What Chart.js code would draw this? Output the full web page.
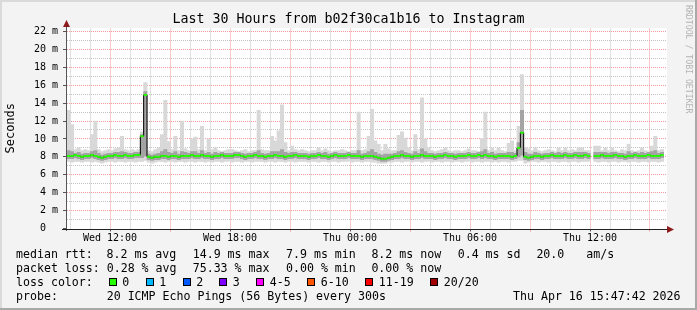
<!DOCTYPE html>
<html>
<head>
<meta charset="utf-8">
<script src="https://cdn.jsdelivr.net/npm/chart.js@4/dist/chart.umd.min.js"></script>
<style>
  html, body { margin: 0; padding: 0; }
  body { width: 697px; height: 310px; position: relative; overflow: hidden; background: #f3f3f3; }
  #chart { position: absolute; left: 0; top: 0; }
  .txt { position: absolute; font-family: "DejaVu Sans Mono", monospace; color: #000; white-space: pre; }
  .leg { font-size: 11.6px; line-height: 14px; }
  .box { position: absolute; width: 6px; height: 6px; border: 1px solid #000; }
</style>
</head>
<body>
<canvas id="chart" width="697" height="310"></canvas>
<div class="txt" id="title" style="left:0;top:11px;width:697px;text-align:center;font-size:13.3px;line-height:16px;">Last 30 Hours from b02f30ca1b16 to Instagram</div>
<div id="legend"></div>
<script>
// 10 minute consolidated samples, Wed 09:51 -> Thu 15:51 (hours since Wed 00:00)
const startHour = 9.85;
const stepHour = 1 / 6;
const dayNames = ['Wed', 'Thu'];
const hourTicks = [10, 11, 12, 13, 14, 15, 16, 17, 18, 19, 20, 21, 22, 23, 24,
                   25, 26, 27, 28, 29, 30, 31, 32, 33, 34, 35, 36, 37, 38, 39];
const msTicks = [0, 1, 2, 3, 4, 5, 6, 7, 8, 9, 10, 11, 12, 13, 14, 15, 16, 17, 18, 19, 20, 21, 22];

// median rtt (ms)
const rttMedian = [
  8.1, 8.1, 8.2, 8.1, 8.0, 8.1, 8.1, 8.2, 8.1, 8.0, 7.9, 8.0,
  8.1, 8.1, 8.2, 8.1, 8.1, 8.2, 8.1, 8.1, 8.2, 8.2, 10.3, 14.9,
  8.0, 7.9, 8.0, 8.0, 8.1, 8.1, 8.0, 8.1, 8.1, 8.0, 8.1, 8.1,
  8.1, 8.2, 8.1, 8.1, 8.2, 8.1, 8.1, 8.0, 8.1, 8.1, 8.2, 8.1,
  8.1, 8.1, 8.2, 8.2, 8.1, 8.0, 8.1, 8.1, 8.2, 8.1, 8.1, 8.0,
  8.1, 8.1, 8.2, 8.1, 8.1, 8.0, 8.1, 8.1, 8.2, 8.1, 8.1, 8.1,
  8.0, 8.1, 8.1, 8.2, 8.1, 8.1, 8.0, 8.1, 8.2, 8.1, 8.1, 8.1,
  8.2, 8.1, 8.1, 8.1, 8.0, 8.1, 8.1, 8.1, 8.0, 7.9, 7.8, 7.8,
  7.9, 8.0, 8.1, 8.1, 8.2, 8.1, 8.1, 8.0, 8.1, 8.1, 8.2, 8.1,
  8.1, 8.1, 8.0, 8.1, 8.1, 8.2, 8.1, 8.1, 8.0, 8.1, 8.1, 8.1,
  8.2, 8.1, 8.1, 8.2, 8.1, 8.2, 8.1, 8.1, 8.0, 8.1, 8.1, 8.1,
  8.1, 8.0, 8.1, 9.0, 10.7, 8.0, 7.9, 8.0, 8.1, 8.1, 8.0, 8.1,
  8.1, 8.2, 8.1, 8.1, 8.1, 8.2, 8.1, 8.1, 8.2, 8.1, 8.1, 8.2,
  8.1, null, 8.1, 8.1, 8.2, 8.1, 8.1, 8.1, 8.2, 8.1, 8.1, 8.0,
  8.1, 8.1, 8.2, 8.1, 8.1, 8.1, 8.2, 8.1, 8.1, 8.1, 8.2, null
];

// fastest ping per sample (bottom of the smoke)
const rttMin = [
  7.5, 7.4, 7.5, 7.5, 7.4, 7.5, 7.5, 7.4, 7.5, 7.4, 7.3, 7.4,
  7.5, 7.5, 7.4, 7.5, 7.5, 7.4, 7.5, 7.5, 7.4, 7.5, 7.5, 7.6,
  7.4, 7.3, 7.4, 7.5, 7.5, 7.4, 7.5, 7.5, 7.4, 7.5, 7.5, 7.4,
  7.5, 7.5, 7.4, 7.5, 7.5, 7.4, 7.5, 7.4, 7.5, 7.5, 7.4, 7.5,
  7.5, 7.4, 7.5, 7.5, 7.4, 7.5, 7.5, 7.4, 7.5, 7.5, 7.5, 7.4,
  7.5, 7.5, 7.4, 7.5, 7.5, 7.4, 7.5, 7.5, 7.4, 7.5, 7.5, 7.5,
  7.4, 7.5, 7.5, 7.4, 7.5, 7.5, 7.4, 7.5, 7.5, 7.4, 7.5, 7.5,
  7.5, 7.4, 7.5, 7.5, 7.4, 7.5, 7.5, 7.4, 7.4, 7.3, 7.3, 7.3,
  7.4, 7.4, 7.5, 7.5, 7.4, 7.5, 7.5, 7.4, 7.5, 7.5, 7.4, 7.5,
  7.5, 7.4, 7.5, 7.5, 7.4, 7.5, 7.5, 7.4, 7.5, 7.5, 7.4, 7.5,
  7.5, 7.4, 7.5, 7.5, 7.4, 7.5, 7.5, 7.4, 7.5, 7.4, 7.5, 7.5,
  7.4, 7.5, 7.5, 7.6, 7.6, 7.3, 7.4, 7.5, 7.5, 7.4, 7.5, 7.5,
  7.4, 7.5, 7.5, 7.4, 7.5, 7.5, 7.4, 7.5, 7.5, 7.4, 7.5, 7.5,
  7.5, null, 7.5, 7.4, 7.5, 7.5, 7.4, 7.5, 7.5, 7.4, 7.5, 7.5,
  7.4, 7.5, 7.5, 7.4, 7.5, 7.5, 7.4, 7.5, 7.5, 7.4, 7.5, null
];

// lower / upper edge of the dense smoke
const rttLowQ = [
  7.8, 7.8, 7.9, 7.8, 7.7, 7.8, 7.8, 7.9, 7.8, 7.7, 7.6, 7.7,
  7.8, 7.8, 7.9, 7.8, 7.8, 7.9, 7.8, 7.8, 7.9, 7.9, 7.9, 8.1,
  7.7, 7.6, 7.7, 7.7, 7.8, 7.8, 7.7, 7.8, 7.8, 7.7, 7.8, 7.8,
  7.8, 7.9, 7.8, 7.8, 7.9, 7.8, 7.8, 7.7, 7.8, 7.8, 7.9, 7.8,
  7.8, 7.8, 7.9, 7.9, 7.8, 7.7, 7.8, 7.8, 7.9, 7.8, 7.8, 7.7,
  7.8, 7.8, 7.9, 7.8, 7.8, 7.7, 7.8, 7.8, 7.9, 7.8, 7.8, 7.8,
  7.7, 7.8, 7.8, 7.9, 7.8, 7.8, 7.7, 7.8, 7.9, 7.8, 7.8, 7.8,
  7.9, 7.8, 7.8, 7.8, 7.7, 7.8, 7.8, 7.8, 7.7, 7.6, 7.5, 7.5,
  7.6, 7.7, 7.8, 7.8, 7.9, 7.8, 7.8, 7.7, 7.8, 7.8, 7.9, 7.8,
  7.8, 7.8, 7.7, 7.8, 7.8, 7.9, 7.8, 7.8, 7.7, 7.8, 7.8, 7.8,
  7.9, 7.8, 7.8, 7.9, 7.8, 7.9, 7.8, 7.8, 7.7, 7.8, 7.8, 7.8,
  7.8, 7.7, 7.8, 8.0, 8.2, 7.7, 7.6, 7.7, 7.8, 7.8, 7.7, 7.8,
  7.8, 7.9, 7.8, 7.8, 7.8, 7.9, 7.8, 7.8, 7.9, 7.8, 7.8, 7.9,
  7.8, null, 7.8, 7.8, 7.9, 7.8, 7.8, 7.8, 7.9, 7.8, 7.8, 7.7,
  7.8, 7.8, 7.9, 7.8, 7.8, 7.8, 7.9, 7.8, 7.8, 7.8, 7.9, null
];
const rttHighQ = [
  8.7, 8.6, 8.4, 8.5, 8.3, 8.4, 8.4, 8.6, 8.7, 8.4, 8.2, 8.3,
  8.4, 8.4, 8.5, 8.5, 8.6, 8.5, 8.4, 8.4, 8.5, 8.5, 10.5, 15.3,
  8.3, 8.2, 8.3, 8.4, 8.6, 8.8, 8.5, 8.4, 8.6, 8.3, 8.6, 8.5,
  8.4, 8.6, 8.6, 8.4, 8.7, 8.4, 8.5, 8.3, 8.5, 8.4, 8.5, 8.4,
  8.4, 8.4, 8.5, 8.5, 8.4, 8.3, 8.4, 8.4, 8.5, 8.7, 8.4, 8.3,
  8.4, 8.6, 8.6, 8.6, 8.8, 8.5, 8.4, 8.5, 8.5, 8.4, 8.4, 8.4,
  8.3, 8.4, 8.4, 8.5, 8.4, 8.5, 8.3, 8.4, 8.5, 8.4, 8.4, 8.4,
  8.5, 8.4, 8.4, 8.7, 8.3, 8.4, 8.6, 8.8, 8.5, 8.3, 8.2, 8.3,
  8.3, 8.3, 8.4, 8.6, 8.7, 8.5, 8.4, 8.3, 8.6, 8.4, 8.9, 8.6,
  8.4, 8.4, 8.3, 8.4, 8.4, 8.5, 8.4, 8.4, 8.3, 8.4, 8.4, 8.4,
  8.5, 8.4, 8.4, 8.5, 8.6, 8.8, 8.4, 8.5, 8.3, 8.4, 8.4, 8.4,
  8.5, 8.5, 8.4, 9.6, 13.2, 8.5, 8.3, 8.3, 8.5, 8.4, 8.3, 8.4,
  8.4, 8.5, 8.4, 8.5, 8.4, 8.5, 8.4, 8.4, 8.5, 8.5, 8.5, 8.5,
  8.4, null, 8.5, 8.5, 8.5, 8.5, 8.4, 8.5, 8.5, 8.4, 8.4, 8.3,
  8.6, 8.4, 8.5, 8.4, 8.5, 8.4, 8.5, 8.6, 8.7, 8.4, 8.5, null
];

// slowest ping per sample (top of the smoke)
const rttMax = [
  13.2, 11.6, 8.8, 9.0, 8.7, 8.8, 8.7, 10.5, 12.0, 8.8, 8.6, 8.7,
  8.8, 8.7, 8.9, 9.0, 10.3, 8.8, 8.7, 8.8, 8.7, 8.8, 10.8, 16.3,
  8.7, 8.6, 8.8, 9.0, 10.5, 14.3, 9.7, 8.8, 10.3, 8.7, 12.0, 8.9,
  8.7, 10.0, 10.2, 8.8, 11.4, 8.7, 10.0, 8.8, 9.0, 8.7, 8.6, 8.7,
  8.8, 8.8, 8.7, 8.6, 8.7, 8.8, 8.6, 8.7, 8.7, 13.2, 8.8, 8.7,
  8.7, 10.3, 9.8, 10.9, 13.8, 9.6, 8.7, 9.2, 8.8, 8.7, 8.8, 8.7,
  8.6, 8.7, 8.7, 9.0, 8.7, 8.9, 8.7, 8.6, 8.7, 8.7, 8.8, 8.7,
  8.6, 8.7, 8.7, 13.0, 8.7, 8.8, 10.3, 13.3, 9.8, 9.4, 8.7, 9.4,
  8.9, 8.7, 8.7, 10.4, 10.8, 10.1, 9.0, 8.7, 10.5, 8.8, 14.6, 10.0,
  9.0, 8.7, 8.6, 8.7, 8.8, 9.0, 8.7, 8.6, 8.7, 8.7, 8.6, 8.7,
  8.9, 8.7, 8.7, 8.6, 10.0, 13.0, 8.7, 9.0, 8.7, 9.0, 8.7, 8.6,
  9.5, 9.8, 8.7, 11.4, 17.2, 9.0, 8.9, 8.7, 9.0, 8.7, 8.6, 8.7,
  8.8, 8.7, 8.6, 9.0, 8.7, 9.0, 8.7, 8.8, 8.7, 9.0, 9.0, 8.7,
  8.7, null, 9.2, 9.2, 8.7, 9.0, 8.7, 9.0, 8.7, 8.6, 8.8, 8.7,
  9.4, 8.7, 8.6, 8.7, 9.0, 8.7, 8.6, 9.2, 10.3, 8.7, 8.8, null
];

const lossLabels = ['0', '1', '2', '3', '4-5', '6-10', '11-19', '20/20'];
const lossColors = ['#26ff00', '#00b8ff', '#0059ff', '#7e00ff', '#ff00ff', '#ff5500', '#ff0000', '#a10000'];

const times = rttMedian.map((_, i) => startHour + (i + 0.5) * stepHour);
const pairs = (lo, hi) => hi.map((v, i) => ({ x: times[i], y: v == null ? null : [lo[i], v] }));
const points = (arr) => arr.map((v, i) => ({ x: times[i], y: v }));

const redGrid = '#f39a9a';
const grayGrid = '#c2c2c2';

// dotted rrdtool grid, drawn under the smoke
const gridPlugin = {
    id: 'dottedGrid',
    beforeDatasetsDraw(chart) {
        const c = chart.ctx, a = chart.chartArea, xs = chart.scales.x, ys = chart.scales.y;
        c.save();
        c.lineWidth = 1;
        c.setLineDash([1, 1]);
        [false, true].forEach(major => {
            c.strokeStyle = major ? redGrid : grayGrid;
            hourTicks.filter(h => (h % 3 === 0) === major).forEach(h => {
                const px = Math.floor(xs.getPixelForValue(h)) + 0.5;
                c.beginPath(); c.moveTo(px, a.bottom); c.lineTo(px, a.top); c.stroke();
            });
            msTicks.filter(v => v > 0 && (v % 2 === 0) === major).forEach(v => {
                const py = Math.floor(ys.getPixelForValue(v)) + 0.5;
                c.beginPath(); c.moveTo(a.left, py); c.lineTo(a.right, py); c.stroke();
            });
        });
        c.restore();
    }
};

const framePlugin = {
    id: 'frame',
    beforeDraw(chart) {
        const c = chart.ctx, a = chart.chartArea;
        c.save();
        c.fillStyle = '#f3f3f3';
        c.fillRect(0, 0, 697, 310);
        c.fillStyle = '#dadada';
        c.fillRect(0, 0, 697, 2);
        c.fillRect(0, 0, 2, 310);
        c.fillStyle = '#a9a9a9';
        c.fillRect(0, 308, 697, 2);
        c.fillRect(695, 0, 2, 310);
        c.fillStyle = '#ffffff';
        c.fillRect(a.left, a.top, a.right - a.left, a.bottom - a.top + 0.5);
        c.restore();
    },
    afterDraw(chart) {
        const c = chart.ctx;
        c.save();
        // axes
        c.fillStyle = '#555555';
        c.fillRect(66, 25, 1, 206);
        c.fillStyle = '#222222';
        c.fillRect(62, 229, 606, 1);
        // arrows
        c.fillStyle = '#8e1b1b';
        c.beginPath();
        c.moveTo(66.5, 20); c.lineTo(63, 27); c.lineTo(70, 27); c.closePath();
        c.fill();
        c.beginPath();
        c.moveTo(674, 229.5); c.lineTo(667, 226); c.lineTo(667, 233); c.closePath();
        c.fill();
        // watermark
        c.translate(688, 5);
        c.rotate(Math.PI / 2);
        c.font = '8.2px "DejaVu Sans Mono"';
        c.fillStyle = '#b3b3b3';
        c.textBaseline = 'middle';
        c.fillText('RRDTOOL / TOBI OETIKER', 0, 0);
        c.restore();
    }
};

const ctx = document.getElementById('chart').getContext('2d');
const chart = new Chart(ctx, {
    type: 'bar',
    data: {
        datasets: [
            {
                type: 'bar', label: 'smoke', data: pairs(rttMin, rttMax),
                backgroundColor: '#d8d8d8', borderWidth: 0, grouped: false,
                barPercentage: 1, categoryPercentage: 1, order: 4
            },
            {
                type: 'bar', label: 'smoke core', data: pairs(rttLowQ, rttHighQ),
                backgroundColor: '#a4a4a4', borderWidth: 0, grouped: false,
                barPercentage: 1, categoryPercentage: 1, order: 3
            },
            {
                type: 'line', label: 'median', data: points(rttMedian),
                borderColor: '#000000', borderWidth: 1, stepped: 'middle',
                pointRadius: 0, spanGaps: false, order: 2
            },
            {
                type: 'line', label: 'median loss color', data: points(rttMedian),
                showLine: false, pointStyle: 'line', pointRadius: 1.7,
                pointBorderWidth: 2, pointBorderColor: lossColors[0],
                pointBackgroundColor: lossColors[0], order: 1
            }
        ]
    },
    options: {
        responsive: false,
        animation: false,
        events: [],
        layout: { padding: { top: 28, right: 30, bottom: 0, left: 0 } },
        plugins: {
            legend: { display: false },
            tooltip: { enabled: false },
            title: { display: false }
        },
        scales: {
            x: {
                type: 'linear',
                min: startHour,
                max: startHour + 30,
                offset: false,
                afterFit: s => { s.height = 81.5; },
                afterBuildTicks: s => { s.ticks = hourTicks.map(v => ({ value: v })); },
                border: { display: false },
                grid: {
                    offset: false,
                    drawOnChartArea: false,
                    tickColor: c => !c.tick ? 'transparent' : (c.tick.value % 6 === 0 ? '#555555' : (c.tick.value % 3 === 0 ? redGrid : 'transparent')),
                    tickLength: 3
                },
                ticks: {
                    autoSkip: false,
                    maxRotation: 0,
                    minRotation: 0,
                    padding: 1,
                    color: '#000',
                    font: { family: '"DejaVu Sans Mono"', size: 10 },
                    callback: v => {
                        if (v % 6 !== 0) return '';
                        const day = dayNames[Math.floor(v / 24)];
                        return day + ' ' + String(v % 24).padStart(2, '0') + ':00';
                    }
                }
            },
            y: {
                min: 0,
                max: 22.39,
                afterFit: s => { s.width = 67; },
                afterBuildTicks: s => { s.ticks = msTicks.map(v => ({ value: v })); },
                border: { display: false },
                grid: {
                    drawOnChartArea: false,
                    tickColor: c => (c.tick && c.tick.value % 2 === 0) ? '#555555' : 'transparent',
                    tickLength: 4
                },
                ticks: {
                    padding: 5,
                    color: '#000',
                    font: { family: '"DejaVu Sans Mono"', size: 10 },
                    callback: v => v % 2 !== 0 ? '' : (v === 0 ? '0  ' : v + ' m')
                },
                title: {
                    display: true,
                    text: 'Seconds',
                    color: '#000',
                    font: { family: '"DejaVu Sans Mono"', size: 12 },
                    padding: { top: 4, bottom: 0 }
                }
            }
        }
    },
    plugins: [framePlugin, gridPlugin]
});

// rrdtool style legend below the graph
const legendRows = [
    { y: 254, items: [[16, 'median rtt:'], [106.5, '8.2 ms avg'], [192.7, '14.9 ms max'], [286, '7.9 ms min'], [371.4, '8.2 ms now'], [457.7, '0.4 ms sd'], [536.4, '20.0'], [586.2, 'am/s']] },
    { y: 268, items: [[16, 'packet loss:'], [106.7, '0.28 % avg'], [192.7, '75.33 % max'], [286, '0.00 % min'], [371.4, '0.00 % now']] },
    { y: 282, items: [[16, 'loss color:']] },
    { y: 296, items: [[16, 'probe:'], [106.7, '20 ICMP Echo Pings (56 Bytes) every 300s'], [513, 'Thu Apr 16 15:47:42 2026']] }
];
const lossBoxX = [108.7, 145.7, 182.7, 219.3, 256.3, 307.3, 365.3, 430.3];

const legend = document.getElementById('legend');
legendRows.forEach(row => {
    row.items.forEach(([x, text]) => {
        const d = document.createElement('div');
        d.className = 'txt leg';
        d.style.left = x + 'px';
        d.style.top = (row.y - 7) + 'px';
        d.textContent = text;
        legend.appendChild(d);
    });
});
lossLabels.forEach((label, i) => {
    const b = document.createElement('div');
    b.className = 'box';
    b.style.left = lossBoxX[i] + 'px';
    b.style.top = '278px';
    b.style.background = lossColors[i];
    legend.appendChild(b);
    const t = document.createElement('div');
    t.className = 'txt leg';
    t.style.left = (lossBoxX[i] + 13.5) + 'px';
    t.style.top = '275px';
    t.textContent = label;
    legend.appendChild(t);
});
</script>
</body>
</html>
